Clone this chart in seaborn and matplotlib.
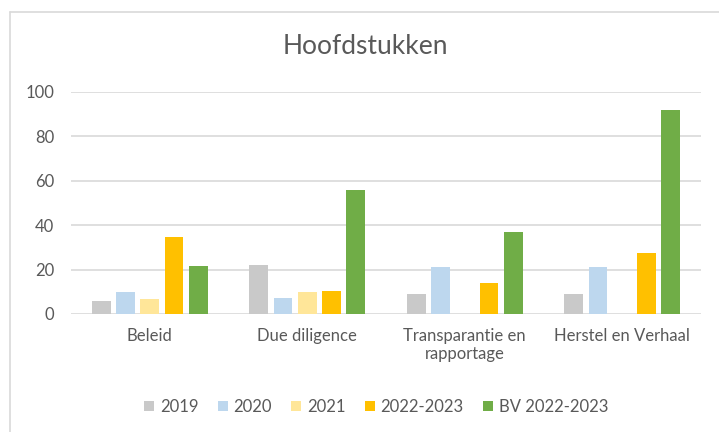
import numpy as np
import pandas as pd
import matplotlib
matplotlib.use("Agg")
import matplotlib.pyplot as plt
import seaborn as sns
from matplotlib.lines import Line2D

categories = ["Beleid", "Due diligence", "Transparantie en\nrapportage", "Herstel en Verhaal"]
series = ["2019", "2020", "2021", "2022-2023", "BV 2022-2023"]
v2019 = [6, 22, 9, 9]
v2020 = [10, 7, 21, 21]
v2021 = [6.6, 10, np.nan, np.nan]
v2022 = [34.5, 10.4, 13.8, 27.7]
vbv = [21.5, 56, 37, 92]
colors = ["#C9C9C9", "#BDD7EE", "#FFE699", "#FFC000", "#70AD47"]
yticks = [0, 20, 40, 60, 80, 100]

rows = []
for s, vals in zip(series, [v2019, v2020, v2021, v2022, vbv]):
    for c, v in zip(categories, vals):
        rows.append({"cat": c, "series": s, "val": v})
df = pd.DataFrame(rows)

sns.set_theme(style="white")
plt.rcParams["font.family"] = ["Lato", "DejaVu Sans"]
txt = "#595959"

fig = plt.figure(figsize=(7.19, 4.32), dpi=100)
ax = fig.add_axes([71/719, 1-314/432, 630/719, 222/432])

sns.barplot(data=df, x="cat", y="val", hue="series", order=categories,
            hue_order=series, palette=colors, saturation=1, width=0.77, gap=0.22,
            linewidth=0, errorbar=None, ax=ax, legend=True, zorder=3)

ax.set_ylim(0, 100)
ax.set_yticks(yticks)
ax.set_xlim(-0.5, len(categories) - 0.5)
ax.yaxis.grid(True, color="#D9D9D9", linewidth=1.2, zorder=0)
ax.set_axisbelow(True)
for sp in ax.spines.values():
    sp.set_visible(False)
ax.set_xlabel("")
ax.set_ylabel("")
ax.tick_params(axis="y", labelsize=12, colors=txt, length=0, pad=12)
ax.tick_params(axis="x", labelsize=12, colors=txt, length=0, pad=10)
for t in ax.get_yticklabels() + ax.get_xticklabels():
    t.set_color(txt)

handles, labels = ax.get_legend_handles_labels()
ax.legend_.remove()
fig.legend(handles, labels, loc="center", bbox_to_anchor=(376/719, 1-407/432),
           ncol=5, frameon=False, fontsize=12, handlelength=0.6, handleheight=0.6,
           handletextpad=0.35, columnspacing=1.15, labelcolor=txt)

fig.text(365/719, 1-47/432, "Hoofdstukken", ha="center", va="center",
         fontsize=19, color=txt)

fig.add_artist(Line2D([10/719, 10/719], [0, 1-12/432], transform=fig.transFigure,
                      color="#D9D9D9", linewidth=1.2))
fig.add_artist(Line2D([10/719, 1], [1-12/432, 1-12/432], transform=fig.transFigure,
                      color="#D9D9D9", linewidth=1.2))

fig.savefig("out.png", dpi=100, facecolor="white")
